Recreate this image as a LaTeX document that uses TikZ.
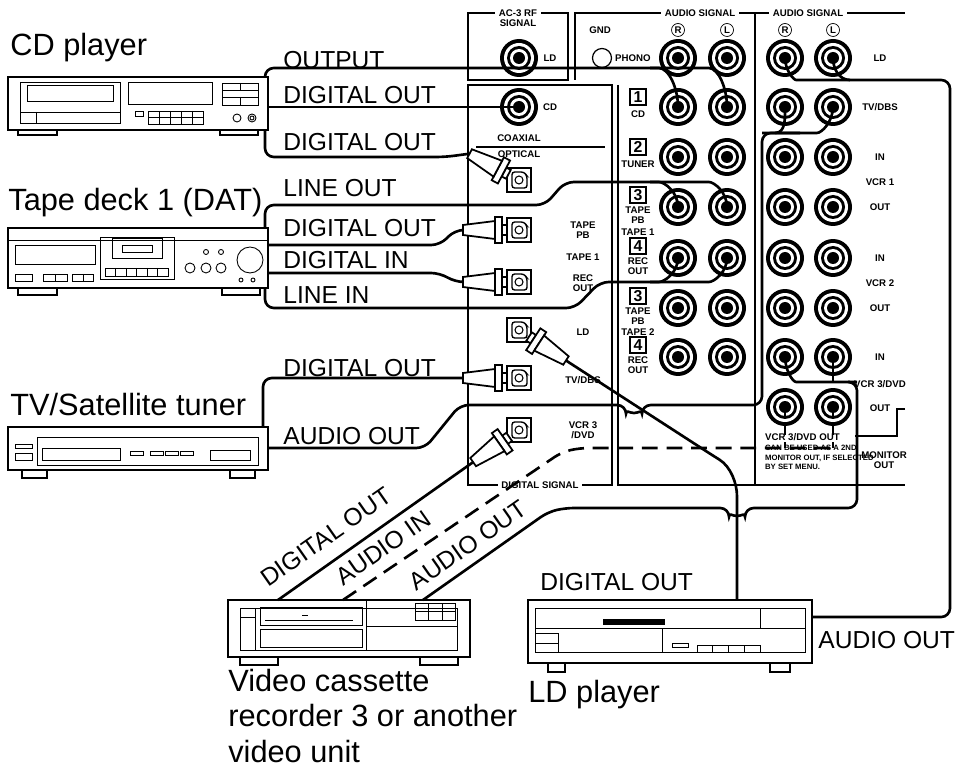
\documentclass[tikz,border=0pt]{standalone}
\usepackage{fontspec}
\setmainfont{Liberation Sans}
\usetikzlibrary{calc}
\tikzset{
% cables, frames and device outlines
cable/.style={line width=1.5pt,rounded corners=5pt},
frame/.style={line width=1.5pt},
unit/.style={line width=0.9pt,fill=white},
part/.style={line width=0.5pt},
% texts
lbl/.style={font=\fontsize{14}{16}\selectfont,anchor=west,inner sep=0pt},
dev/.style={font=\fontsize{17.5}{20}\selectfont,anchor=west,inner sep=0pt,align=left},
pnl/.style={font=\bfseries\fontsize{5.5}{6}\selectfont,inner sep=1pt,align=center},
hdr/.style={pnl,fill=white,inner sep=2pt}
}
% RCA jack
\newcommand\rcajack[2]{%
  \coordinate (#2) at (#1);
  \fill (#2) circle[radius=0.38cm];
  \fill[white] (#2) circle[radius=0.30cm];
  \fill (#2) circle[radius=0.24cm];
  \fill[white] (#2) circle[radius=0.18cm];
  \fill (#2) circle[radius=0.12cm];}
% optical jack
\newcommand\optjack[2]{%
  \coordinate (#2) at (#1);
  \draw[line width=0.8pt] ($(#2)+(-12,-12)$) rectangle ($(#2)+(12,12)$);
  \draw[line width=0.8pt,rounded corners=1.5pt] ($(#2)+(-7,-8)$) -- ($(#2)+(5,-8)$) -- ($(#2)+(8,-4)$) -- ($(#2)+(8,8)$) -- ($(#2)+(-7,8)$) -- cycle;
  \draw[line width=0.6pt] (#2) circle[radius=0.08cm];}
% optical plug: position, turn, name of the cable end
\newcommand\optplug[3]{%
  \begin{scope}[shift={(#1)},rotate=#2,line width=1pt]
    \draw[fill=white] (-12,-5) rectangle (-17,5);
    \draw[fill=white] (-17,-13) rectangle (-24,13);
    \draw[fill=white] (-24,-9) -- (-56,-5) -- (-56,5) -- (-24,9) -- cycle;
    \coordinate (#3) at (-56,0);
  \end{scope}}
% circled channel letter
\newcommand\chan[2]{\node[pnl,draw,circle,line width=0.4pt,inner sep=0.5pt,minimum size=0.26cm] at (#1) {#2};}

\begin{document}
\begin{tikzpicture}[x=0.02cm,y=-0.02cm]
\useasboundingbox (0,0) rectangle (959,776);

% ---------- rear panel ----------
\draw[frame] (468,80) -- (468,13) -- (568,13) -- (568,80) -- cycle;
\draw[frame] (468,85) rectangle (612,485);
\draw[frame] (575,80) -- (575,13) -- (905,13);
\draw[frame] (618,85) -- (618,485) -- (905,485);
\draw[frame] (755,13) -- (755,485);
\node[hdr] at (518,18) {AC-3 RF\\SIGNAL};
\node[hdr] at (700,13) {AUDIO SIGNAL};
\node[hdr] at (808,13) {AUDIO SIGNAL};
\node[hdr] at (540,485) {DIGITAL SIGNAL};
\chan{678,30}{R} \chan{727,30}{L} \chan{785,30}{R} \chan{833,30}{L}
\node[pnl] at (600,30) {GND};
\draw[line width=0.7pt] (602,58) circle[radius=0.19cm];
\node[pnl,anchor=west] at (613,58) {PHONO};

% digital section
\rcajack{519,58}{rf}
\node[pnl] at (550,58) {LD};
\rcajack{519,107}{coax}
\node[pnl] at (550,107) {CD};
\node[pnl] at (519,138) {COAXIAL};
\draw[line width=1pt] (476,147) -- (605,147);
\node[pnl] at (519,154) {OPTICAL};
\optjack{519,180}{ocd}
\optjack{519,230}{opb}
\optjack{519,282}{orec}
\optjack{519,330}{old}
\optjack{519,378}{otv}
\optjack{519,430}{ovcr}
\node[pnl] at (583,230) {TAPE\\PB};
\node[pnl] at (583,257) {TAPE 1};
\node[pnl] at (583,283) {REC\\OUT};
\node[pnl] at (583,332) {LD};
\node[pnl] at (583,380) {TV/DBS};
\node[pnl] at (583,430) {VCR 3\\/DVD};

% analog sections
\foreach \r/\y in {ph/58,cd/107,tu/157,pa/207,ra/258,pb/308,rb/357}{
  \rcajack{678,\y}{\r R} \rcajack{727,\y}{\r L}}
\foreach \r/\y in {ld/58,tv/107,ia/157,oa/207,ib/258,ob/308,ic/357,oc/407}{
  \rcajack{785,\y}{\r R} \rcajack{833,\y}{\r L}}
\foreach \n/\t/\y in {1/CD/107,2/TUNER/157}{
  \node[pnl,draw,line width=0.8pt,font=\bfseries\fontsize{9}{9}\selectfont,minimum size=0.32cm,inner sep=0pt] at (638,\y-10) {\n};
  \node[pnl] at (638,\y+7) {\t};}
\foreach \n/\t/\y in {3/TAPE\\PB/207,4/REC\\OUT/258,3/TAPE\\PB/308,4/REC\\OUT/357}{
  \node[pnl,draw,line width=0.8pt,font=\bfseries\fontsize{9}{9}\selectfont,minimum size=0.32cm,inner sep=0pt] at (638,\y-12) {\n};
  \node[pnl] at (638,\y+8) {\t};}
\node[pnl] at (638,232) {TAPE 1};
\node[pnl] at (638,332) {TAPE 2};
\foreach \t/\y in {LD/58,{TV/DBS}/107,IN/157,VCR 1/182,OUT/207,IN/258,VCR 2/283,OUT/308,IN/357,{VCR 3/DVD}/384,OUT/408}
  \node[pnl] at (880,\y) {\t};
\node[pnl,anchor=west] at (763,437) {VCR 3/DVD OUT};
\node[pnl,anchor=north west,align=left,font=\bfseries\fontsize{4.4}{5.5}\selectfont] at (763,443) {CAN BE USED AS A 2ND\\MONITOR OUT, IF SELECTED\\BY SET MENU.};
\node[pnl] at (884,460) {MONITOR\\OUT};
\draw[frame] (905,409) -- (897,409) -- (897,436) -- (855,436);

% ---------- devices ----------
% CD player
\draw[unit] (8,77) rectangle (268,130);
\draw[part] (20,82) rectangle (120,123) (27,85) rectangle (113,101) (20,112) -- (120,112) (36,112) -- (36,123);
\draw[part] (128,82) rectangle (212,104);
\draw[part] (222,83) rectangle (258,105) (222,90) -- (258,90) (222,97) -- (258,97) (240,83) -- (240,90) (240,97) -- (240,105);
\draw[part] (135,111) rectangle (143,116) (148,111) rectangle (203,124) (148,117) -- (203,117);
\foreach \x in {159,170,181,192} \draw[part] (\x,111) -- (\x,124);
\draw[part] (237,118) circle[radius=0.08cm] (252,118) circle[radius=0.08cm] (252,118) circle[radius=0.04cm];
\draw[unit] (18,130) rectangle (57,135) (220,130) rectangle (258,135);
\node[dev] (cdname) at (10,48) {CD player};

% tape deck
\draw[unit] (8,228) rectangle (268,288);
\draw[part] (8,240) -- (268,240) (15,245) rectangle (95,264);
\draw[part] (15,274) rectangle (32,281) (43,274) rectangle (67,281) (55,274) -- (55,281) (72,274) rectangle (93,281) (83,274) -- (83,281);
\draw[part] (100,237) rectangle (174,279) (112,238) rectangle (162,258) (122,245) rectangle (152,252) (105,268) rectangle (168,276);
\foreach \x in {115,126,136,147,157} \draw[part] (\x,268) -- (\x,276);
\draw[part] (190,268) circle[radius=0.1cm] (206,268) circle[radius=0.1cm] (221,268) circle[radius=0.1cm] (206,252) circle[radius=0.05cm] (221,252) circle[radius=0.05cm] (250,260) circle[radius=0.26cm] (241,280) circle[radius=0.04cm] (253,280) circle[radius=0.04cm];
\draw[unit] (18,288) rectangle (57,295) (222,288) rectangle (260,295);
\node[dev] (tapename) at (8,203) {Tape deck 1 (DAT)};

% TV/Satellite tuner
\draw[unit] (8,427) rectangle (268,470);
\draw[part] (37,437) rectangle (258,465) (15,444) rectangle (32,448) (15,453) rectangle (32,460) (42,448) rectangle (120,460);
\foreach \x in {130,150,165,180} \draw[part] (\x,451) rectangle (\x+13,455);
\draw[part] (210,450) rectangle (250,460);
\draw[unit] (22,470) rectangle (47,478) (230,470) rectangle (255,478);
\node[dev] (tvname) at (10,405) {TV/Satellite tuner};

% video cassette recorder
\draw[unit] (228,600) rectangle (470,657);
\draw[part] (240,608) rectangle (457,650) (240,608) rectangle (255,650) (240,617) -- (255,617);
\draw[part] (260,607) rectangle (362,625) (265,620) -- (353,620) (302,615) -- (308,615) (260,629) rectangle (362,647);
\draw[part] (366,600) -- (366,650) (366,626) -- (457,626) (415,603) rectangle (455,620) (415,611) -- (455,611) (428,603) -- (428,620) (442,603) -- (442,620);
\draw[unit] (240,657) rectangle (278,665) (420,657) rectangle (458,665);
\node[dev] (vcrname) at (228,716) {Video cassette\\recorder 3 or another\\video unit};

% LD player
\draw[unit] (528,600) rectangle (812,663);
\draw[part] (535,608) rectangle (805,652) (535,628) -- (805,628) (535,633) rectangle (558,652) (535,643) -- (558,643);
\fill (603,619) rectangle (665,625);
\draw[part] (760,608) -- (760,628) (662,628) -- (662,652) (672,643) rectangle (688,647) (697,645) rectangle (760,652);
\foreach \x in {712,728,744} \draw[part] (\x,645) -- (\x,652);
\draw[unit] (548,663) rectangle (565,672) (770,663) rectangle (790,672);
\node[dev] (ldname) at (528,695) {LD player};

% ---------- plugs ----------
\optplug{ocd}{-28}{pcd}
\optplug{opb}{0}{ppb}
\optplug{orec}{0}{prec}
\optplug{otv}{0}{ptv}
\optplug{old}{147}{pld}
\optplug{ovcr}{35}{pvcr}

% ---------- cables ----------
% CD player
\draw[cable] (265,77) -- (265,68) -- (650,68) to[out=0,in=90] (cdR);
\draw[cable] (650,68) -- (700,68) to[out=0,in=90] (cdL);
\draw[cable] (268,107) -- (coax);
\draw[cable] (265,130) -- (265,157) -- (445,157) -- (pcd);
\node[lbl] at (283,60) {OUTPUT};
\node[lbl] at (283,95) {DIGITAL OUT};
\node[lbl] at (283,142) {DIGITAL OUT};
% tape deck
\draw[cable] (265,228) -- (265,205) -- (545,205) -- (565,182) -- (650,182) to[out=0,in=90] (paR);
\draw[cable] (650,182) -- (700,182) to[out=0,in=90] (paL);
\draw[cable] (268,245) -- (440,245) -- (455,230) -- (ppb);
\draw[cable] (268,273) -- (440,273) -- (455,282) -- (prec);
\draw[cable] (265,288) -- (265,308) -- (575,308) -- (600,282) -- (650,282) to[out=0,in=-90] (raR);
\draw[cable] (650,282) -- (700,282) to[out=0,in=-90] (raL);
\node[lbl] at (283,188) {LINE OUT};
\node[lbl] at (283,228) {DIGITAL OUT};
\node[lbl] at (283,260) {DIGITAL IN};
\node[lbl] at (283,295) {LINE IN};
% TV/Satellite tuner
\draw[cable] (263,427) -- (263,378) -- (ptv);
\draw[cable] (268,448) -- (425,448) -- (460,405) -- (626,405) arc[start angle=180,end angle=360,radius=0.16cm] -- (762,405) -- (762,133) -- (800,133);
\draw[cable] (762,133) -- (808,133) to[out=0,in=-90] (tvL);
\draw[cable] (775,133) to[out=0,in=-90] (tvR);
\node[lbl] at (283,368) {DIGITAL OUT};
\node[lbl] at (283,436) {AUDIO OUT};
% LD player
\draw[cable] (pld) -- (712,455) to[out=-32,in=90] (737,505) -- (737,600);
\draw[cable] (ldR) to[out=-90,in=180] (805,80) -- (950,80) -- (950,617) -- (812,617);
\draw[cable] (ldL) to[out=-90,in=180] (850,80);
\node[lbl] at (540,582) {DIGITAL OUT};
\node[lbl] at (818,640) {AUDIO OUT};
% video cassette recorder
\draw[cable] (278,600) -- (pvcr);
\draw[cable,dashed,dash pattern=on 9pt off 5pt] (343,600) -- (562,452) -- (580,448) -- (833,448);
\draw[cable,dashed,dash pattern=on 6pt off 4pt] (ocR) -- (785,448) (ocL) -- (833,448);
\draw[cable] (423,600) -- (548,512) -- (565,508) -- (729,508) arc[start angle=180,end angle=360,radius=0.16cm] -- (857,508) -- (857,382) -- (850,382);
\draw[cable] (icR) to[out=-90,in=180] (805,382) -- (857,382);
\draw[cable] (icL) -- (833,382);
\node[lbl,rotate=35,anchor=center] at (326,537) {DIGITAL OUT};
\node[lbl,rotate=35,anchor=center] at (383,548) {AUDIO IN};
\node[lbl,rotate=35,anchor=center] at (468,545) {AUDIO OUT};
\end{tikzpicture}
\end{document}
